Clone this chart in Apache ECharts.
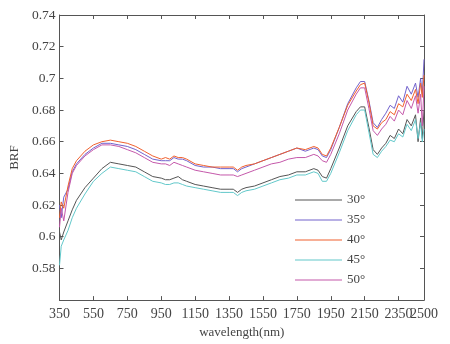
<!DOCTYPE html>
<html>
<head>
<meta charset="utf-8">
<script src="https://cdn.jsdelivr.net/npm/echarts@6/dist/echarts.min.js"></script>
<style>
  html, body { margin: 0; padding: 0; background: #fff; }
  #brf { width: 450px; height: 344px; }
</style>
</head>
<body>
<div id="brf"></div>
<script>
var wavelength = [350, 360, 375, 400, 425, 450, 500, 550, 600, 650, 700, 750, 800, 850, 900, 950, 975, 1000, 1025, 1050, 1075, 1100,
    1150, 1200, 1250, 1300, 1350, 1375, 1400, 1425, 1450, 1500, 1550, 1600, 1650, 1700, 1750, 1800, 1850, 1875, 1900, 1925, 1950,
    2000, 2050, 2100, 2125, 2150, 2175, 2200, 2225, 2250, 2275, 2300, 2325, 2350, 2375, 2400, 2425, 2450, 2465, 2480, 2490, 2500];

var brf30 = [0.603, 0.598, 0.603, 0.610, 0.617, 0.623, 0.631, 0.637, 0.643, 0.647, 0.646, 0.645, 0.644, 0.641, 0.638, 0.637, 0.636, 0.636, 0.637, 0.638, 0.636, 0.635,
    0.633, 0.632, 0.631, 0.630, 0.630, 0.630, 0.628, 0.630, 0.631, 0.632, 0.634, 0.636, 0.638, 0.639, 0.641, 0.641, 0.643, 0.642, 0.638, 0.637, 0.643,
    0.656, 0.670, 0.679, 0.682, 0.682, 0.669, 0.655, 0.652, 0.656, 0.659, 0.664, 0.662, 0.668, 0.665, 0.674, 0.670, 0.677, 0.660, 0.675, 0.662, 0.680];
var brf35 = [0.620, 0.612, 0.625, 0.630, 0.641, 0.646, 0.652, 0.656, 0.659, 0.659, 0.658, 0.657, 0.655, 0.652, 0.649, 0.648, 0.648, 0.648, 0.650, 0.649, 0.649, 0.648,
    0.645, 0.644, 0.644, 0.643, 0.643, 0.643, 0.641, 0.643, 0.644, 0.646, 0.648, 0.650, 0.652, 0.654, 0.656, 0.654, 0.656, 0.655, 0.651, 0.650, 0.655,
    0.669, 0.684, 0.694, 0.698, 0.698, 0.686, 0.672, 0.669, 0.674, 0.678, 0.683, 0.681, 0.689, 0.685, 0.695, 0.690, 0.697, 0.688, 0.700, 0.690, 0.712];
var brf40 = [0.612, 0.622, 0.618, 0.632, 0.643, 0.648, 0.654, 0.658, 0.660, 0.661, 0.660, 0.659, 0.657, 0.654, 0.651, 0.649, 0.650, 0.649, 0.651, 0.650, 0.650, 0.649,
    0.646, 0.645, 0.644, 0.644, 0.644, 0.644, 0.642, 0.644, 0.645, 0.646, 0.648, 0.650, 0.652, 0.654, 0.656, 0.655, 0.657, 0.656, 0.652, 0.651, 0.656,
    0.669, 0.683, 0.692, 0.696, 0.697, 0.685, 0.670, 0.668, 0.672, 0.674, 0.679, 0.677, 0.684, 0.682, 0.690, 0.686, 0.693, 0.684, 0.697, 0.688, 0.702];
var brf45 = [0.582, 0.594, 0.598, 0.604, 0.612, 0.618, 0.627, 0.635, 0.640, 0.644, 0.643, 0.642, 0.641, 0.638, 0.635, 0.634, 0.633, 0.633, 0.634, 0.634, 0.633, 0.632,
    0.631, 0.630, 0.629, 0.628, 0.628, 0.628, 0.626, 0.628, 0.629, 0.630, 0.632, 0.634, 0.636, 0.637, 0.639, 0.639, 0.641, 0.640, 0.635, 0.635, 0.640,
    0.653, 0.667, 0.677, 0.680, 0.680, 0.666, 0.652, 0.650, 0.654, 0.657, 0.661, 0.660, 0.665, 0.663, 0.671, 0.667, 0.674, 0.662, 0.672, 0.660, 0.668];
var brf50 = [0.606, 0.618, 0.610, 0.628, 0.640, 0.645, 0.651, 0.655, 0.658, 0.658, 0.657, 0.655, 0.653, 0.650, 0.647, 0.646, 0.646, 0.645, 0.647, 0.646, 0.645, 0.644,
    0.642, 0.641, 0.640, 0.639, 0.639, 0.639, 0.638, 0.639, 0.640, 0.642, 0.644, 0.646, 0.647, 0.649, 0.650, 0.650, 0.652, 0.651, 0.648, 0.647, 0.652,
    0.665, 0.680, 0.690, 0.694, 0.694, 0.681, 0.667, 0.664, 0.668, 0.671, 0.676, 0.673, 0.680, 0.677, 0.686, 0.681, 0.689, 0.678, 0.690, 0.670, 0.695];

var angles = ['30°', '35°', '40°', '45°', '50°'];
var xTicks = [350, 550, 750, 950, 1150, 1350, 1550, 1750, 1950, 2150, 2350, 2500];
// 2350 sits right against 2500; drawn from a second bottom axis so it is not dropped as an overlap
var xLabelsMain = [350, 550, 750, 950, 1150, 1350, 1550, 1750, 1950, 2150, 2500];
var xLabelsExtra = [2350];

var lineColors = ['#555555', '#7262cc', '#f0602e', '#62c8ca', '#c458aa'];
var allBrf = [brf30, brf35, brf40, brf45, brf50];

function pairs(vals) {
    var out = [];
    for (var i = 0; i < wavelength.length; i++) {
        out.push([wavelength[i], vals[i]]);
    }
    return out;
}

var font = 'Liberation Serif';
var txt = { fontFamily: font, fontSize: 13, color: '#444' };
var xLab = { fontFamily: font, fontSize: 14, color: '#444', margin: 7,
    showMinLabel: true, showMaxLabel: true, hideOverlap: false,
    formatter: function (v) { return String(v); } };

var chart = echarts.init(document.getElementById('brf'));
var series = [];
for (var k = 0; k < angles.length; k++) {
    series.push({
        name: angles[k],
        type: 'line',
        data: pairs(allBrf[k]),
        showSymbol: false,
        symbol: 'none',
        lineStyle: { width: 1, color: lineColors[k] },
        itemStyle: { color: lineColors[k] }
    });
}

var option = {
    backgroundColor: '#fff',
    animation: false,
    grid: { left: 47, right: 26, top: 15, bottom: 42, show: false },
    legend: {
        orient: 'vertical',
        left: 290,
        top: 185,
        icon: 'rect',
        itemWidth: 47,
        itemHeight: 1,
        itemGap: 0,
        data: angles,
        textStyle: { fontFamily: font, fontSize: 13, color: '#444', lineHeight: 20 }
    },
    xAxis: [{
        type: 'value',
        min: 350,
        max: 2500,
        name: 'wavelength(nm)',
        nameLocation: 'middle',
        nameGap: 24,
        nameTextStyle: txt,
        axisLine: { show: true, lineStyle: { color: '#555' } },
        axisTick: { inside: true, length: 4, customValues: xTicks, lineStyle: { color: '#555' } },
        axisLabel: Object.assign({ customValues: xLabelsMain }, xLab),
        splitLine: { show: false }
    }, {
        type: 'value',
        position: 'top',
        min: 350,
        max: 2500,
        axisLine: { show: true, lineStyle: { color: '#555' } },
        axisTick: { inside: true, length: 4, customValues: xTicks, lineStyle: { color: '#555' } },
        axisLabel: { show: false },
        splitLine: { show: false }
    }, {
        type: 'value',
        position: 'bottom',
        offset: 0,
        min: 350,
        max: 2500,
        axisLine: { show: false },
        axisTick: { show: false },
        axisLabel: Object.assign({ customValues: xLabelsExtra }, xLab),
        splitLine: { show: false }
    }],
    yAxis: [{
        type: 'value',
        min: 0.56,
        max: 0.74,
        interval: 0.02,
        name: 'BRF',
        nameLocation: 'middle',
        nameGap: 38,
        nameTextStyle: txt,
        axisLine: { show: true, lineStyle: { color: '#555' } },
        axisTick: { inside: true, length: 4, lineStyle: { color: '#555' } },
        axisLabel: {
            margin: 4, fontFamily: font, fontSize: 13.5, color: '#444',
            formatter: function (v) {
                if (Math.abs(v - 0.56) < 1e-6) return '';
                return String(+v.toFixed(2));
            }
        },
        splitLine: { show: false }
    }, {
        type: 'value',
        position: 'right',
        min: 0.56,
        max: 0.74,
        interval: 0.02,
        axisLine: { show: true, lineStyle: { color: '#555' } },
        axisTick: { inside: true, length: 4, lineStyle: { color: '#555' } },
        axisLabel: { show: false },
        splitLine: { show: false }
    }],
    series: series
};
chart.setOption(option);
</script>
</body>
</html>
